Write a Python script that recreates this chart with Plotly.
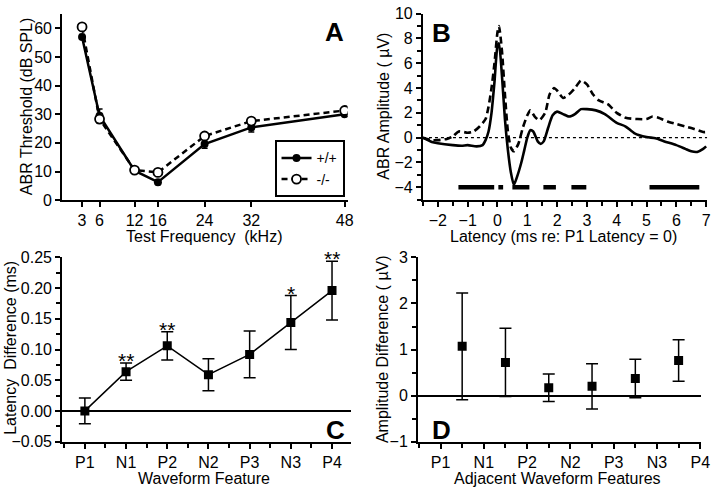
import plotly.graph_objects as go

# ---------------- data ----------------
# Panel A: ABR thresholds
freq_khz = [3, 6, 12, 16, 24, 32, 48]
thr_wt = [57.0, 29.5, 10.3, 6.3, 19.6, 25.4, 30.0]
thr_wt_err = [0.8, 2.3, 0.8, 0.8, 1.5, 1.6, 0.8]
thr_ko = [60.5, 28.3, 10.5, 9.7, 22.4, 27.6, 31.3]
thr_ko_err = [0.8, 1.4, 0.8, 0.8, 1.0, 1.0, 0.8]

# Panel B: averaged ABR waveforms
lat_wt = [-2.5, -2.2, -2.0, -1.5, -1.2, -1.0, -0.7, -0.5, -0.4, -0.3, -0.2, -0.1, 0.0, 0.05,
          0.15, 0.25, 0.35, 0.45, 0.55, 0.65, 0.8, 0.9, 1.0, 1.1, 1.2, 1.35, 1.45, 1.55, 1.7,
          1.85, 2.0, 2.2, 2.4, 2.6, 2.8, 3.0, 3.3, 3.6, 4.0, 4.3, 4.6, 5.0, 5.3, 5.6, 6.0,
          6.3, 6.5, 6.7, 6.9, 7.0]
amp_wt = [0.0, -0.35, -0.45, -0.6, -0.65, -0.6, -0.7, -0.6, -0.2, 0.5, 2.0, 4.5, 7.4, 7.6,
          5.0, 1.5, -1.0, -2.8, -3.8, -3.2, -2.0, -1.0, 0.0, 0.6, 0.5, -0.3, -0.5, -0.3, 0.8,
          1.8, 2.1, 1.9, 1.7, 1.9, 2.3, 2.3, 2.2, 1.9, 1.2, 0.9, 0.35, 0.05, -0.05, -0.3, -0.6,
          -0.9, -1.1, -1.15, -0.9, -0.7]
lat_ko = [-2.5, -2.2, -2.0, -1.7, -1.5, -1.3, -1.0, -0.8, -0.6, -0.4, -0.3, -0.2, -0.1, 0.0,
          0.05, 0.15, 0.25, 0.35, 0.45, 0.55, 0.7, 0.85, 1.0, 1.1, 1.25, 1.4, 1.6, 1.75, 1.9,
          2.0, 2.2, 2.4, 2.6, 2.8, 3.0, 3.2, 3.4, 3.7, 4.0, 4.3, 4.7, 5.0, 5.2, 5.4, 5.7, 6.0,
          6.3, 6.6, 6.9, 7.0]
amp_ko = [0.0, -0.2, -0.2, -0.1, 0.1, 0.5, 0.4, 0.5, 0.9, 1.5, 2.5, 4.0, 6.0, 8.5,
          9.0, 7.0, 3.5, 0.5, -0.8, -1.1, -0.5, 0.8, 1.8, 2.2, 1.7, 1.4, 2.0, 3.5, 4.0,
          3.8, 3.2, 3.5, 4.0, 4.6, 4.3, 3.5, 3.0, 2.7, 2.0, 1.6, 1.5, 1.5, 1.7, 1.6, 1.3, 1.1,
          0.9, 0.7, 0.45, 0.45]
sig_start = [-1.31, 0.03, 0.5, 1.54, 2.48, 5.1]
sig_end = [-0.11, 0.19, 1.07, 1.96, 2.98, 6.77]
sig_level = -4

# Panels C and D
features = ["P1", "N1", "P2", "N2", "P3", "N3", "P4"]
lat_diff = [0.0, 0.064, 0.106, 0.059, 0.092, 0.144, 0.196]
lat_diff_err = [0.021, 0.014, 0.023, 0.026, 0.038, 0.044, 0.048]
lat_stars = ["", "**", "**", "", "", "*", "**"]
amp_diff = [1.07, 0.72, 0.17, 0.20, 0.37, 0.76]
amp_diff_err = [1.16, 0.74, 0.30, 0.49, 0.42, 0.45]

# ---------------- layout helpers ----------------
W, H = 720, 496
FONT = "Liberation Sans, Arial, Helvetica, sans-serif"
TICK = 16
TITLE = 16


def xd(a, b):
    return [a / W, b / W]


def yd(top, bottom):
    return [1 - bottom / H, 1 - top / H]


def axis(**kw):
    base = dict(showline=True, linecolor="black", linewidth=2, ticks="outside",
                ticklen=5, tickwidth=2, tickcolor="black", showgrid=False,
                zeroline=False, mirror=False,
                tickfont=dict(family=FONT, size=TICK, color="black"))
    base.update(kw)
    return base


fig = go.Figure()

# ---------- Panel A ----------
fig.add_trace(go.Scatter(
    x=freq_khz, y=thr_wt, mode="lines+markers", name="+/+",
    line=dict(color="black", width=2.5),
    marker=dict(symbol="circle", size=8, color="black"),
    error_y=dict(type="data", array=thr_wt_err, color="black", thickness=1.5, width=3),
    xaxis="x", yaxis="y"))
fig.add_trace(go.Scatter(
    x=freq_khz, y=thr_ko, mode="lines+markers", name="-/-",
    line=dict(color="black", width=2.5, dash="6px,4px"),
    marker=dict(symbol="circle", size=9, color="white", line=dict(color="black", width=1.8)),
    error_y=dict(type="data", array=thr_ko_err, color="black", thickness=1.5, width=3),
    xaxis="x", yaxis="y"))

# ---------- Panel B ----------
fig.add_trace(go.Scatter(
    x=lat_ko, y=amp_ko, mode="lines", showlegend=False,
    line=dict(color="black", width=2.6, dash="7px,4px", shape="spline", smoothing=0.6),
    xaxis="x2", yaxis="y2"))
fig.add_trace(go.Scatter(
    x=lat_wt, y=amp_wt, mode="lines", showlegend=False,
    line=dict(color="black", width=2.6, shape="spline", smoothing=0.6),
    xaxis="x2", yaxis="y2"))
bx, by = [], []
for s, e in zip(sig_start, sig_end):
    bx += [s, e, None]
    by += [sig_level, sig_level, None]
fig.add_trace(go.Scatter(
    x=bx, y=by, mode="lines", showlegend=False,
    line=dict(color="black", width=4.5), xaxis="x2", yaxis="y2"))

# ---------- Panel C ----------
feat_pos = list(range(len(features)))
fig.add_trace(go.Scatter(
    x=feat_pos, y=lat_diff, mode="lines+markers", showlegend=False,
    line=dict(color="black", width=1.5),
    marker=dict(symbol="square", size=9, color="black"),
    error_y=dict(type="data", array=lat_diff_err, color="black", thickness=1.5, width=6),
    xaxis="x3", yaxis="y3"))

# ---------- Panel D ----------
pair_pos = [i + 0.5 for i in range(len(features) - 1)]
fig.add_trace(go.Scatter(
    x=pair_pos, y=amp_diff, mode="markers", showlegend=False,
    marker=dict(symbol="square", size=9, color="black"),
    error_y=dict(type="data", array=amp_diff_err, color="black", thickness=1.5, width=6),
    xaxis="x4", yaxis="y4"))

minor_tick = dict(ticks="outside", ticklen=4, tickwidth=2, tickcolor="black")

fig.update_layout(
    width=W, height=H, autosize=False,
    margin=dict(l=0, r=0, t=0, b=0),
    paper_bgcolor="white", plot_bgcolor="white",
    font=dict(family=FONT, size=TICK, color="black"),
    xaxis=axis(domain=xd(63, 352), range=[-0.4, 48.5], tickvals=freq_khz, anchor="y"),
    yaxis=axis(domain=yd(6.2, 199), range=[0, 65], tickvals=[0, 10, 20, 30, 40, 50, 60], anchor="x"),
    xaxis2=axis(domain=xd(428.3, 716), range=[-2.5, 7.03], tickmode="linear", tick0=0, dtick=1,
                minor=dict(tickmode="linear", tick0=0, dtick=0.5, **minor_tick), anchor="y2"),
    yaxis2=axis(domain=yd(5.8, 198.5), range=[-5, 10], tickvals=[-4, -2, 0, 2, 4, 6, 8, 10],
                minor=dict(tickmode="linear", tick0=0, dtick=1, **minor_tick), anchor="x2"),
    xaxis3=axis(domain=xd(63, 355), range=[-0.55, 6.45], tickvals=feat_pos, ticktext=features,
                minor=dict(tickmode="linear", tick0=0, dtick=0.5, **minor_tick), anchor="y3"),
    yaxis3=axis(domain=yd(258.3, 449), range=[-0.05, 0.25],
                tickvals=[-0.05, 0.0, 0.05, 0.10, 0.15, 0.20, 0.25], tickformat=".2f",
                minor=dict(tickmode="linear", tick0=0, dtick=0.025, **minor_tick),
                zeroline=True, zerolinecolor="black", zerolinewidth=1.5, anchor="x3"),
    xaxis4=axis(domain=xd(423.3, 710), range=[-0.52, 6.02], tickvals=feat_pos, ticktext=features,
                minor=dict(tickmode="linear", tick0=0, dtick=0.5, **minor_tick), anchor="y4"),
    yaxis4=axis(domain=yd(258.3, 449), range=[-1, 3], tickvals=[-1, 0, 1, 2, 3],
                minor=dict(tickmode="linear", tick0=0, dtick=0.5, **minor_tick),
                zeroline=True, zerolinecolor="black", zerolinewidth=1.5, anchor="x4"),
    legend=dict(x=278 / W, y=1 - 137 / H, xanchor="left", yanchor="top",
                bgcolor="white", bordercolor="black", borderwidth=2,
                font=dict(family=FONT, size=14, color="black"), tracegroupgap=0,
                itemwidth=30),
)

# dotted zero line in panel B
fig.add_shape(type="line", xref="x2 domain", yref="y2", x0=0, x1=1, y0=0, y1=0,
              line=dict(color="black", width=1.2, dash="dot"))

ann = []


def txt(text, x, y, size=TITLE, angle=0, bold=False, xref="paper", yref="paper",
        xanchor="center", yanchor="middle"):
    ann.append(dict(text=("<b>%s</b>" % text) if bold else text, x=x, y=y, xref=xref, yref=yref,
                    showarrow=False, textangle=angle, xanchor=xanchor, yanchor=yanchor,
                    font=dict(family=FONT, size=size, color="black")))


def px(xp, yp):
    return xp / W, 1 - yp / H


# axis titles
txt("ABR Threshold (dB SPL)", *px(27, 102), angle=-90)
txt("Test Frequency  (kHz)", *px(207, 237))
txt("ABR Amplitude ( µV)", *px(388, 102), angle=-90)
txt("Latency (ms re: P1 Latency = 0)", *px(571, 237))
txt("Latency  Difference (ms)", *px(11, 352), angle=-90)
txt("Waveform Feature", *px(207, 487))
txt("Amplitude Difference ( µV)", *px(388, 353), angle=-90)
txt("Adjacent Waveform Features", *px(565, 487))

# panel letters
txt("A", *px(339, 25), size=26, bold=True)
txt("B", *px(447, 26), size=26, bold=True)
txt("C", *px(340, 437), size=26, bold=True)
txt("D", *px(447, 437), size=26, bold=True)

# significance stars in panel C
for xi, yi, ei, s in zip(feat_pos, lat_diff, lat_diff_err, lat_stars):
    if s:
        txt(s, xi, yi + ei + 0.004, size=21, xref="x3", yref="y3", yanchor="middle")

fig.update_layout(annotations=ann)
fig.write_html("out.html",
               config={"displayModeBar": False},
               post_script="document.body.style.margin='0px';"
                           "document.body.style.padding='0px';"
                           "document.body.style.overflow='hidden';")
